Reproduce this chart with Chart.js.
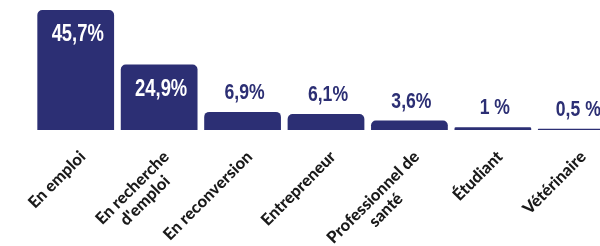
<!DOCTYPE html>
<html><head><meta charset="utf-8">
<script src="https://cdn.jsdelivr.net/npm/chart.js@4/dist/chart.umd.min.js"></script>
<style>
html,body{margin:0;padding:0;background:#fff;overflow:hidden;width:600px;height:246px}
#wrap{position:relative;width:620px;height:246px}
</style>
</head><body><div id="wrap"><canvas id="c" width="620" height="246"></canvas></div>
<script>
const categories = [['En emploi'], ['En recherche', "d'emploi"], ['En reconversion'], ['Entrepreneur'], ['Professionnel de', 'santé'], ['Étudiant'], ['Vétérinaire']];
const values = [45.7, 24.9, 6.9, 6.1, 3.6, 1, 0.5];
const valueLabels = ['45,7%', '24,9%', '6,9%', '6,1%', '3,6%', '1 %', '0,5 %'];

const NAVY = '#2c2f74';
const VALUE_FONT = '"Liberation Sans","Arial",sans-serif';
const TICK_FONT = '900 16.5px Lato, "Open Sans", sans-serif';
const TICK_ANGLE = 45 * Math.PI / 180;
const TICK_LINE_H = 18;

const valueLabelPlugin = {
  id: 'valueLabels',
  afterDatasetsDraw(chart) {
    const ctx = chart.ctx;
    const meta = chart.getDatasetMeta(0);
    meta.data.forEach((bar, i) => {
      const inside = values[i] > 20;
      ctx.save();
      ctx.font = 'bold ' + (inside ? 23 : 22) + 'px ' + VALUE_FONT;
      ctx.fillStyle = inside ? '#ffffff' : NAVY;
      ctx.textAlign = 'center';
      ctx.textBaseline = 'alphabetic';
      ctx.translate(bar.x + 2, inside ? bar.y + 31 : bar.y - 13);
      ctx.scale(0.8, 1);
      ctx.fillText(valueLabels[i], 0, 0);
      ctx.restore();
    });
  }
};

const tickLabelPlugin = {
  id: 'tickLabels',
  afterDraw(chart) {
    const ctx = chart.ctx;
    const xs = chart.scales.x;
    ctx.save();
    ctx.font = TICK_FONT;
    ctx.fillStyle = '#1a1a1a';
    categories.forEach((lines, i) => {
      const px = xs.getPixelForValue(i) + 7;
      const py = xs.top + 24;
      const widths = lines.map(l => ctx.measureText(l).width);
      const w = Math.max.apply(null, widths);
      ctx.save();
      ctx.translate(px, py);
      ctx.rotate(-TICK_ANGLE);
      ctx.textAlign = 'center';
      ctx.textBaseline = 'middle';
      lines.forEach((l, j) => ctx.fillText(l, -w / 2, j * TICK_LINE_H));
      ctx.restore();
    });
    ctx.restore();
  }
};

new Chart(document.getElementById('c'), {
  type: 'bar',
  data: {
    labels: categories,
    datasets: [{
      data: values,
      backgroundColor: NAVY,
      borderRadius: {topLeft: 5, topRight: 5, bottomLeft: 0, bottomRight: 0},
      borderSkipped: 'bottom',
      categoryPercentage: 0.92,
      barPercentage: 1
    }]
  },
  options: {
    responsive: false,
    animation: false,
    devicePixelRatio: 1,
    layout: {padding: {left: 34, right: 2, top: 0, bottom: 0}},
    plugins: {legend: {display: false}, tooltip: {enabled: false}},
    scales: {
      x: {
        grid: {display: false},
        border: {display: false},
        ticks: {display: false},
        afterFit(s) { s.height = 116; s.paddingLeft = 0; s.paddingRight = 0; }
      },
      y: {display: false, min: 0, max: 49.5}
    }
  },
  plugins: [valueLabelPlugin, tickLabelPlugin]
});
</script>
</body></html>
